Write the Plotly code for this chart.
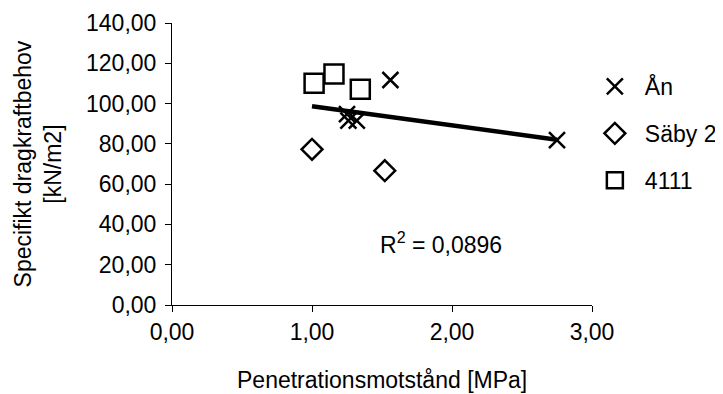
import numpy as np
import plotly.graph_objects as go

# Data
an_x = [1.25, 1.26, 1.32, 1.56, 2.75]
an_y = [94.8, 91.5, 91.5, 111.7, 81.9]
saby_x = [1.00, 1.52]
saby_y = [77.3, 66.7]
s4111_x = [1.015, 1.157, 1.345]
s4111_y = [110.1, 114.7, 107.1]
series_names = ["Ån", "Säby 2", "4111"]
r2_label = "R<sup>2</sup> = 0,0896"
x_title = "Penetrationsmotstånd [MPa]"
y_title = "Specifikt dragkraftbehov<br>[kN/m2]"

# Linear trend over all points
all_x = np.array(an_x + saby_x + s4111_x)
all_y = np.array(an_y + saby_y + s4111_y)
slope, intercept = np.polyfit(all_x, all_y, 1)
trend_x = [all_x.min(), all_x.max()]
trend_y = [slope * v + intercept for v in trend_x]

FONT = "Liberation Sans, Arial, sans-serif"
FS = 23

fig = go.Figure()
fig.add_trace(go.Scatter(x=trend_x, y=trend_y, mode="lines",
                         line=dict(color="black", width=4.5),
                         showlegend=False, hoverinfo="skip"))
fig.add_trace(go.Scatter(x=an_x, y=an_y, mode="markers", name=series_names[0],
                         legendgroup="a",
                         marker=dict(symbol="x-thin-open", size=16, color="black",
                                     line=dict(color="black", width=2.5))))
fig.add_trace(go.Scatter(x=saby_x, y=saby_y, mode="markers", name=series_names[1],
                         legendgroup="b",
                         marker=dict(symbol="diamond-open", size=16, color="black",
                                     line=dict(color="black", width=2.5))))
fig.add_trace(go.Scatter(x=s4111_x, y=s4111_y, mode="markers", name=series_names[2],
                         legendgroup="c",
                         marker=dict(symbol="square-open", size=19, color="black",
                                     line=dict(color="black", width=2.5))))

axis_common = dict(showgrid=False, zeroline=False, showline=True, linecolor="black",
                   linewidth=1, ticks="outside", ticklen=6, tickcolor="black",
                   tickwidth=1, tickformat=".2f", automargin=False,
                   tickfont=dict(family=FONT, size=FS, color="black"))

fig.update_layout(
    width=723, height=386,
    margin=dict(l=164, r=139, t=15, b=89, autoexpand=False),
    paper_bgcolor="white", plot_bgcolor="white",
    separators=", ",
    font=dict(family=FONT, size=FS, color="black"),
    xaxis=dict(range=[0, 3], dtick=1, tick0=0, **axis_common),
    yaxis=dict(range=[0, 140], dtick=20, tick0=0, ticklabelstandoff=4, **axis_common),
    legend=dict(x=0.983, xanchor="left", y=0.851, yanchor="top",
                itemwidth=50, tracegroupgap=14,
                font=dict(family=FONT, size=FS, color="black"),
                bgcolor="rgba(0,0,0,0)"),
    annotations=[
        dict(text=r2_label, x=1.47, y=31, xref="x", yref="y",
             xanchor="left", yanchor="middle", showarrow=False,
             font=dict(family=FONT, size=FS, color="black")),
        dict(text=x_title, x=0.5, y=-0.266, xref="paper", yref="paper",
             xanchor="center", yanchor="middle", showarrow=False,
             font=dict(family=FONT, size=FS, color="black")),
        dict(text=y_title, x=-0.318, y=0.5, xref="paper", yref="paper",
             xanchor="center", yanchor="middle", showarrow=False, textangle=-90,
             font=dict(family=FONT, size=FS, color="black")),
    ],
)

fig.write_html("out.html")
